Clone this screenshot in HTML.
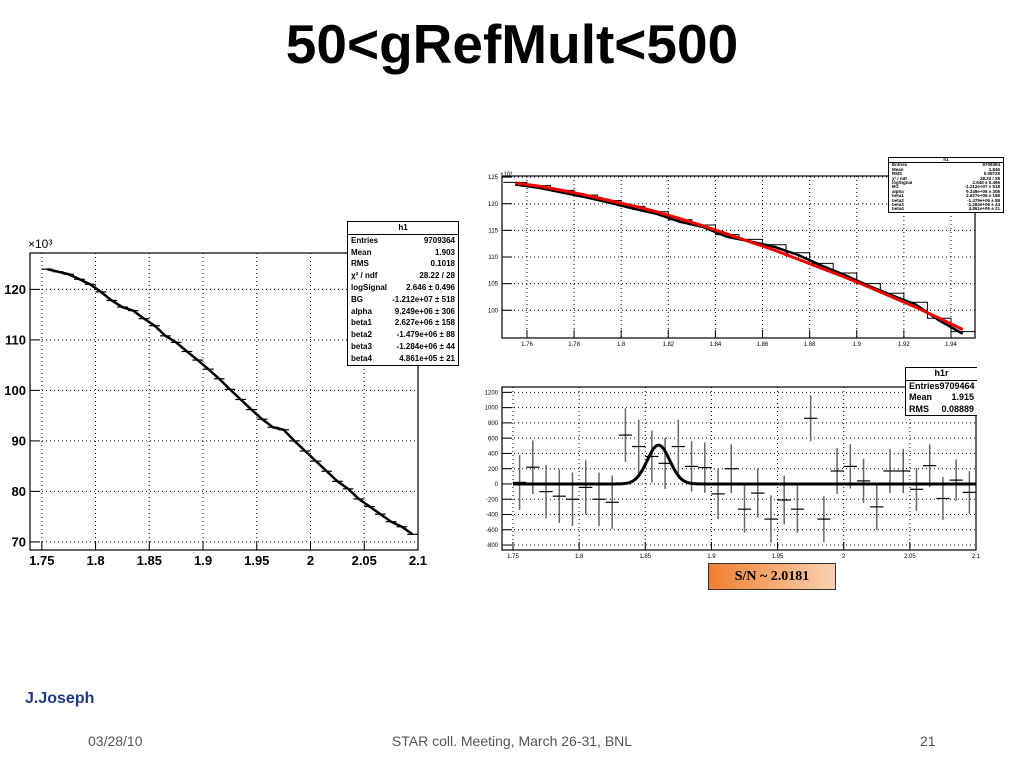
<!DOCTYPE html>
<html><head><meta charset="utf-8">
<style>
body{margin:0;width:1024px;height:768px;background:#fff;overflow:hidden;font-family:"Liberation Sans",sans-serif;position:relative;}
#title{position:absolute;left:0;width:1024px;top:12px;text-align:center;font:bold 55px "Liberation Sans",sans-serif;color:#000;}
.ft{position:absolute;font-size:14px;color:#555;top:733px;}
svg{position:absolute;left:0;top:0;}
.sb{position:absolute;background:#fff;border:1px solid #000;font-weight:bold;color:#000;z-index:5;box-sizing:border-box;}
.sb .h{text-align:center;border-bottom:1px solid #000;}
.sb .r{display:flex;justify-content:space-between;padding:0 3px;white-space:nowrap;overflow:hidden;}
</style></head><body>
<div id="title">50&lt;gRefMult&lt;500</div>
<svg id="c" width="1024" height="768"></svg>
<div id="sbL" class="sb" style="left:347px;top:221px;width:112px;font-size:8px;line-height:11.8px"></div>
<div id="sbT" class="sb" style="left:888px;top:157px;width:116px;font-size:4.5px;line-height:4.4px"></div>
<div id="sbB" class="sb" style="left:905px;top:367px;width:72px;font-size:9px;line-height:11.5px;border-right:none"></div>
<div style="position:absolute;left:708px;top:563px;width:126px;height:25px;border:1px solid #333;background:linear-gradient(90deg,#ee8030,#fbd0b0);font:bold 14px 'Liberation Serif',serif;line-height:25px;text-align:center">S/N ~ 2.0181</div>
<div style="position:absolute;left:25px;top:690px;font:bold 16px 'Liberation Sans',sans-serif;color:#1f3a8a">J.Joseph</div>
<div class="ft" style="left:88px">03/28/10</div>
<div class="ft" style="left:0;width:1024px;text-align:center">STAR coll. Meeting, March 26-31, BNL</div>
<div class="ft" style="left:920px">21</div>
<script>
// Left chart data (bin values, x10^3)
const leftX=[1.755,1.765,1.775,1.785,1.795,1.805,1.815,1.825,1.835,1.845,1.855,1.865,1.875,1.885,1.895,1.905,1.915,1.925,1.935,1.945,1.955,1.965,1.975,1.985,1.995,2.005,2.015,2.025,2.035,2.045,2.055,2.065,2.075,2.085,2.095];
const leftY=[124,123.5,123,122,121,119.5,117.8,116.5,115.8,114.2,112.8,110.8,109.5,107.7,106,104.2,102.3,100.2,98.2,96.2,94.3,92.7,92.2,90,88,86,84,82,80.5,78.5,77,75.5,74,73,71.5];
const leftXTicks=[1.75,1.8,1.85,1.9,1.95,2,2.05,2.1];
const leftYTicks=[70,80,90,100,110,120];
// Top-right chart data
const trX=[1.755,1.765,1.775,1.785,1.795,1.805,1.815,1.825,1.835,1.845,1.855,1.865,1.875,1.885,1.895,1.905,1.915,1.925,1.935,1.945];
const trY=[124,123.4,122.5,121.6,120.6,119.5,118.5,117,116,114.2,113.3,112.3,110.8,108.8,107,105,103.2,101.5,98.5,96];
const trFit=[123.9,123.3,122.5,121.6,120.6,119.6,118.5,117.2,115.8,114.3,112.8,111.3,109.6,107.9,106.2,104.4,102.5,100.6,98.5,96.4];
const trXTicks=[1.76,1.78,1.8,1.82,1.84,1.86,1.88,1.9,1.92,1.94];
const trYTicks=[100,105,110,115,120,125];
// Bottom-right residual data
const brX=[1.755,1.765,1.775,1.785,1.795,1.805,1.815,1.825,1.835,1.845,1.855,1.865,1.875,1.885,1.895,1.905,1.915,1.925,1.935,1.945,1.955,1.965,1.975,1.985,1.995,2.005,2.015,2.025,2.035,2.045,2.055,2.065,2.075,2.085,2.095];
const brY=[20,220,-100,-160,-200,-45,-200,-240,640,490,360,270,490,230,215,-130,200,-330,-120,-460,-210,-330,860,-460,170,230,40,-300,170,170,-70,240,-190,50,-110];
const brErr=[360,350,350,350,350,355,350,350,350,350,340,335,350,330,330,330,320,310,320,310,320,310,300,300,300,290,290,300,290,290,280,280,280,270,280];
const gaussPar=[510,1.86,0.0085];
const brXTicks=[1.75,1.8,1.85,1.9,1.95,2,2.05,2.1];
const brYTicks=[-800,-600,-400,-200,0,200,400,600,800,1000,1200];
const statsL=[['Entries','9709364'],['Mean','1.903'],['RMS','0.1018'],['χ² / ndf','28.22 / 28'],['logSignal','2.646 ± 0.496'],['BG','-1.212e+07 ± 518'],['alpha','9.249e+06 ± 306'],['beta1','2.627e+06 ± 158'],['beta2','-1.479e+06 ± 88'],['beta3','-1.284e+06 ± 44'],['beta4','4.861e+05 ± 21']];
const statsT=[['Entries','9709364'],['Mean','1.846'],['RMS','0.05725'],['χ² / ndf','28.22 / 28'],['logSignal','2.646 ± 0.496'],['BG','-1.212e+07 ± 518'],['alpha','9.249e+06 ± 306'],['beta1','2.627e+06 ± 158'],['beta2','-1.479e+06 ± 88'],['beta3','-1.284e+06 ± 44'],['beta4','4.861e+05 ± 21']];
const statsB=[['Entries','9709464'],['Mean','1.915'],['RMS','0.08889']];

const S=document.getElementById('c'),NS='http://www.w3.org/2000/svg';
function el(t,a,p){const e=document.createElementNS(NS,t);for(const k in a)e.setAttribute(k,a[k]);(p||S).appendChild(e);return e;}
function frame(x0,x1,y0,y1,xl,xh,yl,yh,name){
  const g=el('g',{});
  
  
  return {g,sx:v=>x0+(v-xl)/(xh-xl)*(x1-x0),sy:v=>y1-(v-yl)/(yh-yl)*(y1-y0),x0,x1,y0,y1};
}
function axes(f,xt,yt,fs,bold){
  const g=f.g;
  xt.forEach(v=>{const x=f.sx(v);el('line',{x1:x,x2:x,y1:f.y0,y2:f.y1,stroke:'#000','stroke-dasharray':'1,3','stroke-width':1},g);
    el('line',{x1:x,x2:x,y1:f.y1,y2:f.y1-8,stroke:'#000'},g);
    const t=el('text',{x:x,y:f.y1+fs+2,'font-size':fs,'font-weight':bold,'text-anchor':'middle'},g);t.textContent=String(v);
    });
  yt.forEach(v=>{const y=f.sy(v);el('line',{x1:f.x0,x2:f.x1,y1:y,y2:y,stroke:'#000','stroke-dasharray':'1,3','stroke-width':1},g);
    el('line',{x1:f.x0,x2:f.x0+10,y1:y,y2:y,stroke:'#000'},g);
    const t=el('text',{x:f.x0-4,y:y+fs*0.35,'font-size':fs,'font-weight':bold,'text-anchor':'end'},g);t.textContent=String(v);
    });
  el('rect',{x:f.x0,y:f.y0,width:f.x1-f.x0,height:f.y1-f.y0,fill:'none',stroke:'#000','stroke-width':1.2},g);
}
function statbox(id,title,rows){
  const b=document.getElementById(id);
  let h='<div class="h">'+title+'</div>';
  rows.forEach(r=>{h+='<div class="r"><span>'+r[0]+'</span><span>'+r[1]+'</span></div>';});
  b.innerHTML=h;
}
statbox('sbL','h1',statsL);statbox('sbT','h1',statsT);statbox('sbB','h1r',statsB);
// LEFT
let L=frame(30,418,253,550,1.739,2.1,68.4,127.2,'left-histogram');
axes(L,leftXTicks,leftYTicks,13,'bold');
let d='';leftX.forEach((v,i)=>{d+=(i?'L':'M')+L.sx(v)+' '+L.sy(leftY[i]);});
el('path',{d:d,fill:'none',stroke:'#000','stroke-width':2.5},L.g);
leftX.forEach((v,i)=>{const b=el('line',{x1:L.sx(v-0.005),x2:L.sx(v+0.005),y1:L.sy(leftY[i]),y2:L.sy(leftY[i]),stroke:'#000','stroke-width':1.2},L.g);
  });
let tt=el('text',{x:28,y:248,'font-size':12},L.g);tt.textContent='×10³';
// TOP RIGHT
let T=frame(502,975,176,338,1.7494,1.9502,94.8,125.2,'top-right-fit');
axes(T,trXTicks,trYTicks,6,'normal');
d='';trX.forEach((v,i)=>{d+=(i?'L':'M')+T.sx(v-0.005)+' '+T.sy(trY[i])+'L'+T.sx(v+0.005)+' '+T.sy(trY[i]);});
const hp=el('path',{d:d,fill:'none',stroke:'#000','stroke-width':1},T.g);
d='';trX.forEach((v,i)=>{d+=(i?'L':'M')+T.sx(v)+' '+T.sy(trY[i]-0.4);});
el('path',{d:d,fill:'none',stroke:'#000','stroke-width':2.5},T.g);
d='';trX.forEach((v,i)=>{d+=(i?'L':'M')+T.sx(v)+' '+T.sy(trFit[i]);});
const fp=el('path',{d:d,fill:'none',stroke:'#e00','stroke-width':3},T.g);
tt=el('text',{x:500,y:176,'font-size':6},T.g);tt.textContent='×10³';
// BOTTOM RIGHT
let B=frame(502,976,387,550,1.7417,2.1,-865,1270,'residual-plot');
axes(B,brXTicks,brYTicks,6,'normal');
brX.forEach((v,i)=>{const x=B.sx(v);
  const e=el('line',{x1:x,x2:x,y1:B.sy(brY[i]-brErr[i]),y2:B.sy(brY[i]+brErr[i]),stroke:'#666','stroke-width':1.5},B.g);
  
  const m=el('line',{x1:B.sx(v-0.005),x2:B.sx(v+0.005),y1:B.sy(brY[i]),y2:B.sy(brY[i]),stroke:'#000','stroke-width':1.2},B.g);
  });
d='';for(let k=0;k<=200;k++){const v=1.75+k*0.35/200;const y=gaussPar[0]*Math.exp(-0.5*Math.pow((v-gaussPar[1])/gaussPar[2],2));d+=(k?'L':'M')+B.sx(v)+' '+B.sy(y);}
const gp=el('path',{d:d,fill:'none',stroke:'#000','stroke-width':3},B.g);
</script>
</body></html>
